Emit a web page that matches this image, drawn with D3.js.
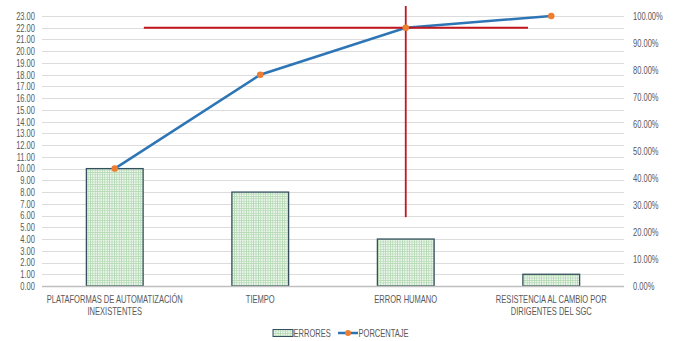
<!DOCTYPE html>
<html>
<head>
<meta charset="utf-8">
<script src="https://cdn.jsdelivr.net/npm/d3@7/dist/d3.min.js"></script>
<style>
  body { margin: 0; background: #fff; }
  text { font-family: "Liberation Sans", Arial, sans-serif; fill: #595959; }
</style>
</head>
<body>
<div id="chart"></div>
<script>
// DATA
var categories = [
  ["PLATAFORMAS DE AUTOMATIZACIÓN", "INEXISTENTES"],
  ["TIEMPO"],
  ["ERROR HUMANO"],
  ["RESISTENCIA AL CAMBIO POR", "DIRIGENTES DEL SGC"]
];
var errores = [10, 8, 4, 1];
var porcentaje = [0.4348, 0.7826, 0.9565, 1.0];
var leftTicks = d3.range(0, 24, 1);
var rightTicks = d3.range(0, 1.01, 0.1);
// red 80/20 guide lines: [index from, index to, pct] and [index, pct from, pct to]
var hGuideLine = [0.2, 2.84, 0.9565];
var vGuideLine = [2, 0.255, 1.037];

var width = 673, height = 341;
var margin = {top: 16, right: 49, bottom: 55, left: 42};
var plotW = width - margin.left - margin.right,
    plotH = height - margin.top - margin.bottom;
var squeeze = 0.72; // narrow the text like the original font

var svg = d3.select("#chart").append("svg")
  .attr("width", width)
  .attr("height", height);

// PATTERN FOR THE BARS
var defs = svg.append("defs");
var pat = defs.append("pattern")
  .attr("id", "grid")
  .attr("width", 2.4).attr("height", 2.4)
  .attr("patternUnits", "userSpaceOnUse");
pat.append("rect").attr("width", 2.4).attr("height", 2.4).attr("fill", "#b5d8b4");
pat.append("rect").attr("x", 0.8).attr("y", 0.8).attr("width", 1.6).attr("height", 1.6).attr("fill", "#eef8ee");

var g = svg.append("g")
  .attr("transform", "translate(" + margin.left + "," + margin.top + ")");

var x = d3.scaleBand()
  .domain(d3.range(categories.length))
  .range([0, plotW]);
var xc = d3.scaleLinear()
  .domain([0, 1])
  .range([x(0) + x.bandwidth() / 2, x(1) + x.bandwidth() / 2]);
var yL = d3.scaleLinear().domain([0, 23]).range([plotH, 0]);
var yR = d3.scaleLinear().domain([0, 1]).range([plotH, 0]);

// GRIDLINES
g.append("g").selectAll("line")
  .data(leftTicks.filter(function(d){ return d > 0; }))
  .enter().append("line")
  .attr("x1", 0).attr("x2", plotW)
  .attr("y1", function(d){ return Math.round(yL(d)) + 0.5; })
  .attr("y2", function(d){ return Math.round(yL(d)) + 0.5; })
  .attr("stroke", "#dcdcdc").attr("stroke-width", 1);

// LEFT AXIS
var leftAxis = d3.axisLeft(yL).tickValues(leftTicks).tickSize(0).tickPadding(7)
  .tickFormat(d3.format(".2f"));
var lg = g.append("g").call(leftAxis);
lg.select(".domain").remove();
lg.selectAll("text").style("font-size", "10.5px").style("fill", "#595959")
  .attr("x", -7 / squeeze)
  .attr("transform", "scale(" + squeeze + ",1)");

// RIGHT AXIS
var rightAxis = d3.axisRight(yR).tickValues(rightTicks).tickSize(0).tickPadding(9)
  .tickFormat(d3.format(".2%"));
var rg = g.append("g").attr("transform", "translate(" + plotW + ",0)").call(rightAxis);
rg.select(".domain").remove();
rg.selectAll("text").style("font-size", "10.5px").style("fill", "#595959")
  .attr("x", 9 / squeeze)
  .attr("transform", "scale(" + squeeze + ",1)");

// BARS
var bw = x.bandwidth() * 0.39;
g.append("g").selectAll("rect")
  .data(errores)
  .enter().append("rect")
  .attr("x", function(d, i){ return x(i) + (x.bandwidth() - bw) / 2; })
  .attr("y", function(d){ return yL(d); })
  .attr("width", bw)
  .attr("height", function(d){ return plotH - yL(d); })
  .attr("fill", "url(#grid)")
  .attr("stroke", "#34505e")
  .attr("stroke-width", 1.3);

// BASELINE
g.append("line")
  .attr("x1", 0).attr("x2", plotW)
  .attr("y1", plotH + 0.5).attr("y2", plotH + 0.5)
  .attr("stroke", "#bfbfbf").attr("stroke-width", 1.5);

// CATEGORY LABELS
var cl = g.append("g").selectAll("text")
  .data(categories)
  .enter().append("text")
  .attr("transform", function(d, i){
    return "translate(" + (x(i) + x.bandwidth() / 2) + "," + (plotH + 17) + ") scale(" + squeeze + ",1)";
  })
  .attr("text-anchor", "middle")
  .style("font-size", "10.5px");
cl.selectAll("tspan")
  .data(function(d){ return d; })
  .enter().append("tspan")
  .attr("x", 0)
  .attr("dy", function(d, i){ return i === 0 ? 0 : 12; })
  .text(function(d){ return d; });

// PORCENTAJE LINE
var line = d3.line()
  .x(function(d, i){ return x(i) + x.bandwidth() / 2; })
  .y(function(d){ return yR(d); });
g.append("path")
  .datum(porcentaje)
  .attr("d", line)
  .attr("fill", "none")
  .attr("stroke", "#2e75b6")
  .attr("stroke-width", 2.5);

// RED GUIDE LINES
g.append("line")
  .attr("x1", xc(hGuideLine[0])).attr("x2", xc(hGuideLine[1]))
  .attr("y1", yR(hGuideLine[2])).attr("y2", yR(hGuideLine[2]))
  .attr("stroke", "#c0161c").attr("stroke-width", 1.8);
g.append("line")
  .attr("x1", xc(vGuideLine[0])).attr("x2", xc(vGuideLine[0]))
  .attr("y1", yR(vGuideLine[1])).attr("y2", yR(vGuideLine[2]))
  .attr("stroke", "#c0161c").attr("stroke-width", 1.8);

// MARKERS
g.append("g").selectAll("circle")
  .data(porcentaje)
  .enter().append("circle")
  .attr("cx", function(d, i){ return x(i) + x.bandwidth() / 2; })
  .attr("cy", function(d){ return yR(d); })
  .attr("r", 3.3)
  .attr("fill", "#ed7d31");

// LEGEND
var leg = svg.append("g").attr("transform", "translate(273,333)");
leg.append("rect")
  .attr("x", 0).attr("y", -3.5).attr("width", 20).attr("height", 7)
  .attr("fill", "url(#grid)").attr("stroke", "#34505e").attr("stroke-width", 1);
leg.append("text").attr("transform", "translate(20.5,3.5) scale(" + squeeze + ",1)")
  .style("font-size", "10.5px").text("ERRORES");
leg.append("line")
  .attr("x1", 65).attr("x2", 85).attr("y1", 0).attr("y2", 0)
  .attr("stroke", "#2e75b6").attr("stroke-width", 2.5);
leg.append("circle").attr("cx", 75).attr("cy", 0).attr("r", 3).attr("fill", "#ed7d31");
leg.append("text").attr("transform", "translate(85.5,3.5) scale(" + squeeze + ",1)")
  .style("font-size", "10.5px").text("PORCENTAJE");
</script>
</body>
</html>
